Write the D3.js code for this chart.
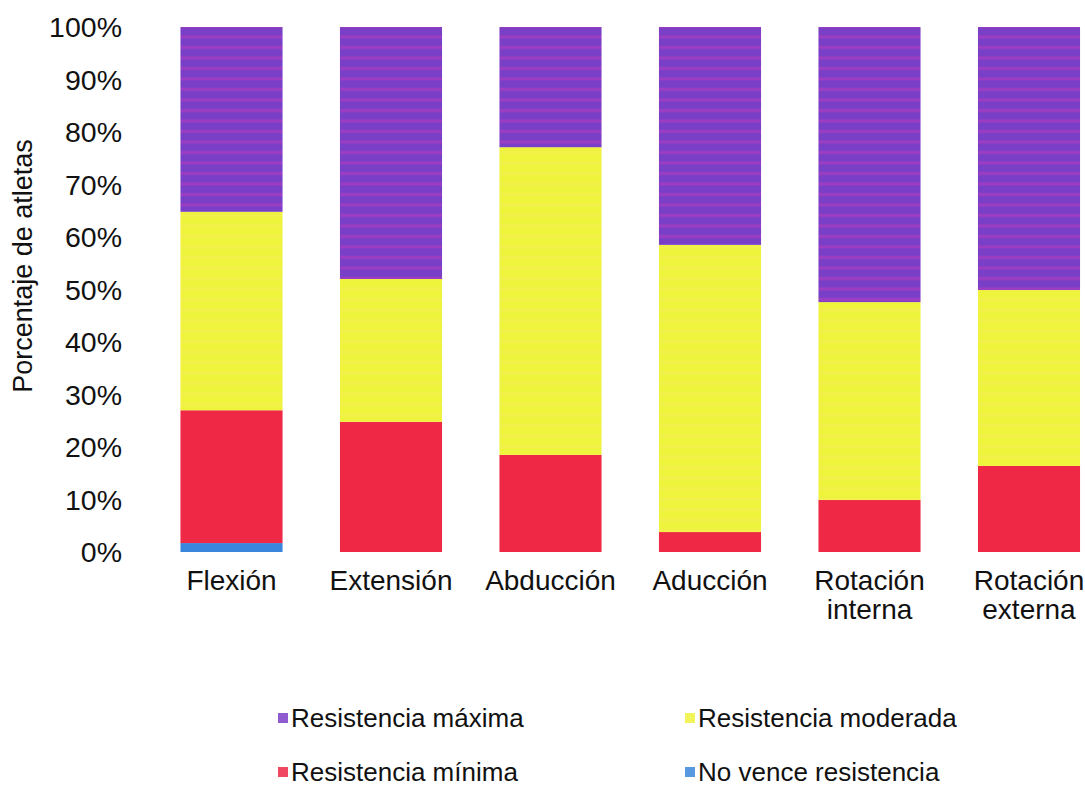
<!DOCTYPE html>
<html>
<head>
<meta charset="utf-8">
<script src="https://cdn.jsdelivr.net/npm/d3@7"></script>
<style>
  html, body { margin: 0; padding: 0; background: #fff; }
  svg { display: block; font-family: "Liberation Sans", Arial, sans-serif; }
  text { fill: #111; }
</style>
</head>
<body>
<svg id="chart" width="1085" height="788"></svg>
<script>
// Movements tested
const categories = ["Flexión", "Extensión", "Abducción", "Aducción", "Rotación interna", "Rotación externa"];

// Percentage of athletes per resistance level (bottom to top of each bar)
const noVence   = [1.7, 0, 0, 0, 0, 0];
const minima    = [25.3, 24.8, 18.5, 3.8, 9.9, 16.4];
const moderada  = [37.8, 27.2, 58.6, 54.7, 37.7, 33.5];
const maxima    = [35.2, 48.0, 22.9, 41.5, 52.4, 50.1];

const seriesKeys   = ["noVence", "minima", "moderada", "maxima"];
const seriesLabels = ["No vence resistencia", "Resistencia mínima", "Resistencia moderada", "Resistencia máxima"];
const seriesColors = ["#3a86dc", "#ef2846", "#eef33c", "#7a3fc7"];

const yTicks = [0, 10, 20, 30, 40, 50, 60, 70, 80, 90, 100];
const yTitle = "Porcentaje de atletas";

const table = categories.map((c, i) => ({
  cat: c, noVence: noVence[i], minima: minima[i], moderada: moderada[i], maxima: maxima[i]
}));

const AXIS_FONT = 28.5;
const CAT_FONT = 28;
const TITLE_FONT = 27;
const LEGEND_FONT = 26;

const svg = d3.select("#chart");

// Stripe patterns for the fills
const defs = svg.append("defs");
const purplePat = defs.append("pattern").attr("id", "purpleStripes")
  .attr("patternUnits", "userSpaceOnUse").attr("width", 8).attr("height", 10.5);
purplePat.append("rect").attr("width", 8).attr("height", 10.5).attr("fill", "#7a3fc7");
purplePat.append("rect").attr("y", 4).attr("width", 8).attr("height", 3).attr("fill", "#9c3dc3");
const yellowPat = defs.append("pattern").attr("id", "yellowStripes")
  .attr("patternUnits", "userSpaceOnUse").attr("width", 8).attr("height", 10.5);
yellowPat.append("rect").attr("width", 8).attr("height", 10.5).attr("fill", "#eef33c");
yellowPat.append("rect").attr("y", 4).attr("width", 8).attr("height", 3).attr("fill", "#f2f04a");

const fills = { noVence: "#3a86dc", minima: "#ef2846", moderada: "url(#yellowStripes)", maxima: "url(#purpleStripes)" };

const x = d3.scaleBand().domain(categories).range([151.75, 1108.75])
  .paddingInner(0.36).paddingOuter(0.18);
const y = d3.scaleLinear().domain([0, 100]).range([552, 27]);

const stacked = d3.stack().keys(seriesKeys)(table);

svg.append("g").selectAll("g").data(stacked).join("g")
  .attr("fill", d => fills[d.key])
  .selectAll("rect").data(d => d).join("rect")
  .attr("x", d => x(d.data.cat))
  .attr("y", d => y(d[1]))
  .attr("width", x.bandwidth())
  .attr("height", d => Math.max(0, y(d[0]) - y(d[1])));

// Y axis: labels only
const yAxis = svg.append("g").attr("transform", "translate(122,0)")
  .call(d3.axisLeft(y).tickValues(yTicks).tickSize(0).tickPadding(0).tickFormat(d => d + "%"));
yAxis.select(".domain").remove();
yAxis.selectAll("text")
  .attr("dy", "0.35em")
  .style("font-size", AXIS_FONT + "px").style("font-family", "Liberation Sans, Arial, sans-serif")
  .attr("fill", "#111");

// X axis: category names, two lines where needed
const xAxis = svg.append("g").attr("transform", "translate(0,572)")
  .call(d3.axisBottom(x).tickSize(0).tickFormat(""));
xAxis.select(".domain").remove();
xAxis.selectAll(".tick").each(function (d) {
  const words = d.split(" ");
  const t = d3.select(this).append("text")
    .attr("text-anchor", "middle")
    .style("font-size", CAT_FONT + "px").attr("fill", "#111");
  words.forEach((w, i) => {
    t.append("tspan").attr("x", 0).attr("y", 18 + i * 29).text(w);
  });
});

// Y axis title
svg.append("text")
  .attr("transform", "translate(32,266) rotate(-90)")
  .attr("text-anchor", "middle")
  .style("font-size", TITLE_FONT + "px")
  .text(yTitle);

// Legend (two columns, two rows)
const legendOrder = ["maxima", "moderada", "minima", "noVence"];
const legendX = [289, 696];
const legendY = [718, 772];
const legend = svg.append("g");
legendOrder.forEach((k, i) => {
  const idx = seriesKeys.indexOf(k);
  const lx = legendX[i % 2], ly = legendY[Math.floor(i / 2)];
  const g = legend.append("g").attr("transform", `translate(${lx},${ly})`);
  g.append("rect").attr("x", -11).attr("y", -5).attr("width", 10).attr("height", 10)
    .attr("fill", seriesColors[idx]).attr("opacity", 0.85);
  g.append("text").attr("x", 2).attr("y", 0).attr("dy", "0.35em")
    .style("font-size", LEGEND_FONT + "px")
    .text(seriesLabels[idx]);
});
</script>
</body>
</html>
